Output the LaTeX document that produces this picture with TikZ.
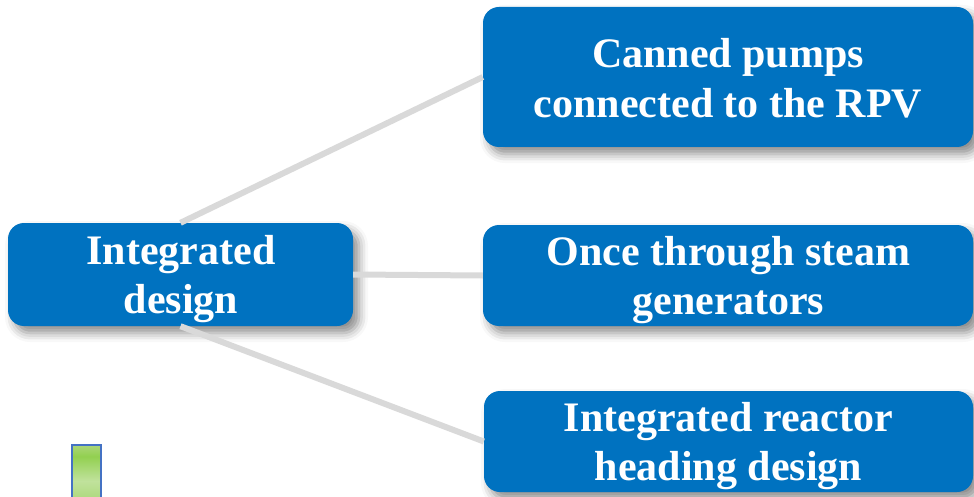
\documentclass[tikz,border=0pt]{standalone}
\usepackage{fontspec}
\setmainfont{Liberation Serif}
\usetikzlibrary{shadows.blur}
\definecolor{boxblue}{RGB}{0,114,192}
\definecolor{linegray}{RGB}{217,217,217}
\definecolor{rimblue}{RGB}{68,114,196}
\definecolor{gA}{RGB}{172,214,122}
\definecolor{gB}{RGB}{146,208,80}
\definecolor{gC}{RGB}{192,226,156}
\definecolor{gD}{RGB}{175,218,128}
\pgfdeclareverticalshading{gbar}{100bp}{color(0bp)=(gD); color(25bp)=(gD); color(41bp)=(gC); color(64bp)=(gB); color(75bp)=(gA); color(100bp)=(gA)}
\tikzset{
  box/.style={draw=none, fill=boxblue, rounded corners=16pt, inner sep=0pt,
    blur shadow={shadow xshift=6pt, shadow yshift=-7pt, shadow blur radius=9pt, shadow opacity=45}},
  txt/.style={text=white, font=\bfseries\fontsize{42}{49}\selectfont, align=center, inner sep=0pt, anchor=base},
  conn/.style={draw=linegray, line width=6pt}
}
\begin{document}
\begin{tikzpicture}[x=1pt,y=-1pt]
\useasboundingbox (0,0) rectangle (974,497);
\begin{scope}
\clip (0,0) rectangle (974,497);
\node[box, minimum width=345pt, minimum height=103pt] (L) at (180.5,274.5) {};
\node[box, minimum width=490pt, minimum height=140pt] (T) at (728,77) {};
\node[box, minimum width=490pt, minimum height=101pt] (M) at (728,275.5) {};
\node[box, minimum width=489pt, minimum height=101pt] (B) at (728.5,441.5) {};
\node[txt] (Lt) at (181,313) {Integrated\\design};
\node[txt, font=\bfseries\fontsize{42}{50}\selectfont] (Tt) at (728,118) {Canned pumps\\connected to the RPV};
\node[txt] (Mt) at (728.5,314) {Once through steam\\generators};
\node[txt] (Bt) at (728.5,480) {Integrated reactor\\heading design};
\draw[conn] (L.north) -- (T.west);
\draw[conn] (L.east) -- (M.west);
\draw[conn] (L.south) -- (B.west);
\node[draw=rimblue, line width=1.5pt, minimum width=29pt, minimum height=53pt, inner sep=0pt,
  shading=gbar, anchor=north west] (G) at (71,444) {};
\end{scope}
\end{tikzpicture}
\end{document}
